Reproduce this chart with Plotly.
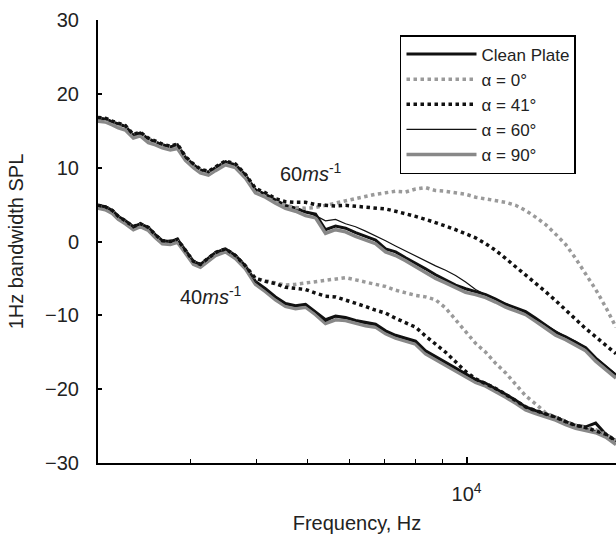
import numpy as np
import plotly.graph_objects as go

freq = [2000, 2065, 2129, 2186, 2254, 2334, 2406, 2492, 2570, 2649, 2743, 2829, 2930, 3034, 3128,
        3239, 3340, 3489, 3645, 3807, 3977, 4155, 4341, 4535, 4738, 4950, 5171, 5401, 5643, 5895,
        6158, 6432, 6720, 7020, 7333, 7661, 8002, 8359, 8733, 9124, 9531, 9956, 10400, 10870, 11350,
        11860, 12390, 12940, 13520, 14120, 14750, 15410, 16100, 16820, 17570, 18360, 19200]

# 60 m/s
u_clean = [16.7, 16.6, 16.2, 15.9, 15.6, 14.4, 14.7, 13.9, 13.5, 13.1, 12.8, 13.1, 11.4, 10.4, 9.7,
           9.4, 10.0, 10.8, 10.4, 9.0, 7.0, 6.4, 5.6, 4.9, 4.5, 4.0, 3.7, 1.6, 2.1, 1.8,
           1.2, 0.7, 0.2, -1.0, -1.4, -2.2, -2.9, -3.7, -4.5, -5.2, -5.9, -6.4, -6.8, -7.2, -7.8,
           -8.5, -9.0, -9.5, -10.4, -11.4, -12.3, -12.9, -13.6, -14.4, -15.8, -16.9, -18.1]
u_a0 = [16.7, 16.5, 16.2, 15.8, 15.6, 14.4, 14.6, 13.9, 13.5, 13.0, 12.8, 13.1, 11.4, 10.3, 9.7,
        9.3, 10.0, 10.8, 10.3, 8.9, 7.0, 6.4, 5.6, 4.9,
        4.6, 4.5, 4.6, 4.9, 5.2, 5.6, 5.9, 6.2, 6.4, 6.6, 6.8, 6.7, 7.1, 7.3, 6.9, 6.8, 6.6, 6.4,
        6.0, 5.8, 5.6, 5.3, 4.9, 4.2, 3.3, 2.3, 1.0, -0.4, -2.3, -4.4, -6.5, -8.9, -11.6]
u_a41 = [16.8, 16.7, 16.3, 16.0, 15.7, 14.5, 14.8, 14.0, 13.6, 13.2, 12.9, 13.2, 11.5, 10.5, 9.8,
         9.5, 10.1, 10.9, 10.5, 9.1, 7.2, 6.6, 5.8,
         5.4, 5.3, 5.3, 5.0, 4.9, 4.8, 4.9, 4.8, 4.7, 4.6, 4.4, 4.1, 3.8, 3.4, 3.0, 2.6, 2.1, 1.6,
         1.0, 0.5, -0.3, -1.2, -2.3, -3.4, -4.5, -5.6, -6.8, -8.0, -9.3, -10.5, -11.8, -12.9, -14.0, -15.2]
u_a60 = [16.8, 16.6, 16.3, 15.9, 15.5, 14.5, 14.6, 13.9, 13.4, 13.1, 12.9, 13.0, 11.3, 10.4, 9.8,
         9.3, 10.0, 10.9, 10.3, 9.0, 7.1, 6.3, 5.7, 4.8, 4.6, 4.1,
         3.5, 2.8, 3.0, 2.4, 2.0, 1.4, 0.8, 0.1, -0.6, -1.3, -2.0, -2.7, -3.3, -3.9, -4.6, -5.5,
         -6.5, -7.2, -7.8, -8.4, -9.0, -9.6, -10.5, -11.3, -12.2, -12.9, -13.5, -14.4, -15.7, -16.9, -18.0]
u_a90 = [16.3, 16.2, 15.8, 15.4, 15.1, 14.0, 14.3, 13.4, 13.1, 12.7, 12.4, 12.6, 11.0, 10.0, 9.3,
         9.0, 9.6, 10.4, 10.0, 8.6, 6.6, 6.0, 5.2, 4.5, 4.1, 3.5, 3.2, 1.1, 1.6, 1.3,
         0.7, 0.2, -0.3, -1.4, -1.9, -2.6, -3.4, -4.1, -5.0, -5.6, -6.3, -6.9, -7.2, -7.6, -8.2,
         -8.9, -9.4, -9.9, -10.8, -11.8, -12.7, -13.3, -14.0, -14.8, -16.2, -17.3, -18.5]

# 40 m/s
l_clean = [4.9, 4.7, 4.2, 3.4, 2.8, 2.0, 2.4, 1.9, 0.9, 0.1, 0.0, 0.3, -1.2, -2.7, -3.1,
           -2.2, -1.5, -1.0, -1.9, -3.3, -5.4, -6.4, -7.5, -8.4, -8.7, -8.5, -9.5, -10.6, -10.1, -10.3,
           -10.7, -11.0, -11.2, -12.1, -12.7, -13.1, -13.5, -14.8, -15.6, -16.3, -17.1, -18.0, -18.7, -19.2, -19.9,
           -20.7, -21.5, -22.4, -22.9, -23.3, -23.8, -24.4, -24.9, -25.1, -24.6, -26.1, -27.0]
l_a0 = [4.8, 4.6, 4.1, 3.3, 2.7, 1.9, 2.3, 1.8, 0.8, 0.0, -0.1, 0.2, -1.3, -2.8, -3.2,
        -2.3, -1.6, -1.1, -2.0, -3.4,
        -5.0, -5.3, -5.6, -5.9, -5.8, -5.6, -5.4, -5.3, -5.0, -4.9, -5.2, -5.5, -5.7, -6.1, -6.6,
        -7.0, -7.3, -7.5, -7.9, -9.0, -10.6, -12.2, -13.8, -15.0, -16.5, -17.8, -19.4, -20.9, -22.0, -23.2,
        -23.8, -24.4, -24.9, -25.2, -25.5, -26.1, -27.0]
l_a41 = [4.9, 4.7, 4.2, 3.4, 2.8, 2.0, 2.4, 1.9, 0.9, 0.1, 0.0, 0.3, -1.2, -2.7, -3.1,
         -2.2, -1.5, -1.0, -1.9, -3.3,
         -5.0, -5.4, -5.7, -6.2, -6.3, -6.5, -7.0, -7.4, -7.5, -7.9, -8.4, -8.8, -9.3, -9.7, -10.4,
         -11.0, -11.6, -12.8, -13.9, -15.0, -16.3, -17.6, -18.6,
         -19.2, -19.9, -20.7, -21.5, -22.4, -22.9, -23.3, -23.8, -24.4, -24.9, -25.2, -25.6, -26.1, -27.0]
l_a60 = [4.8, 4.6, 4.1, 3.3, 2.7, 1.9, 2.3, 1.8, 0.8, 0.0, -0.1, 0.2, -1.3, -2.8, -3.2,
         -2.3, -1.6, -1.1, -2.0, -3.4, -5.5, -6.5, -7.6, -8.5, -8.8, -8.6, -9.6, -10.8, -10.2, -10.4,
         -10.8, -11.1, -11.3, -12.2, -12.8, -13.2, -13.6, -14.9, -15.7, -16.4, -17.2, -18.1, -18.8, -19.3, -20.0,
         -20.8, -21.6, -22.5, -23.0, -23.4, -23.9, -24.5, -25.0, -25.3, -25.6, -26.2, -27.1]
l_a90 = [4.5, 4.3, 3.8, 3.0, 2.4, 1.6, 2.0, 1.5, 0.5, -0.3, -0.4, -0.1, -1.6, -3.1, -3.5,
         -2.6, -1.9, -1.4, -2.3, -3.7, -5.8, -6.8, -7.9, -8.8, -9.1, -8.9, -9.9, -11.1, -10.6, -10.7,
         -11.1, -11.4, -11.6, -12.5, -13.1, -13.5, -13.9, -15.2, -16.0, -16.7, -17.5, -18.4, -19.1, -19.6, -20.3,
         -21.1, -21.9, -22.8, -23.3, -23.7, -24.2, -24.8, -25.3, -25.6, -25.9, -26.5, -27.5]

series_names = ["Clean Plate", "α = 0°", "α = 41°", "α = 60°", "α = 90°"]
minor_ticks = [3000, 4000, 5000, 6000, 7000, 8000, 9000]

styles = {
    "Clean Plate": dict(color="#111111", width=3, dash="solid"),
    "α = 0°": dict(color="#9a9a9a", width=3.5, dash="dot"),
    "α = 41°": dict(color="#111111", width=3.5, dash="dot"),
    "α = 60°": dict(color="#111111", width=1.2, dash="solid"),
    "α = 90°": dict(color="#888888", width=3.5, dash="solid"),
}
upper = {"Clean Plate": u_clean, "α = 0°": u_a0, "α = 41°": u_a41, "α = 60°": u_a60, "α = 90°": u_a90}
lower = {"Clean Plate": l_clean, "α = 0°": l_a0, "α = 41°": l_a41, "α = 60°": l_a60, "α = 90°": l_a90}
draw_order = ["Clean Plate", "α = 90°", "α = 60°", "α = 0°", "α = 41°"]

fig = go.Figure()
for group, data in (("u", upper), ("l", lower)):
    for name in draw_order:
        fig.add_trace(go.Scatter(
            x=freq, y=data[name], mode="lines", name=name,
            line=styles[name], legendgroup=name,
            showlegend=(group == "u"),
            legendrank=series_names.index(name) + 1,
        ))

font_fam = "Arial, Liberation Sans, sans-serif"
fig.add_annotation(x=np.log10(4380), y=9.3, xref="x", yref="y",
                   text="60<i>ms</i><sup>-1</sup>", showarrow=False,
                   xanchor="left", yanchor="middle", font=dict(size=20, color="#222"))
fig.add_annotation(x=np.log10(2830), y=-7.3, xref="x", yref="y",
                   text="40<i>ms</i><sup>-1</sup>", showarrow=False,
                   xanchor="left", yanchor="middle", font=dict(size=20, color="#222"))

fig.update_layout(
    width=616, height=536,
    margin=dict(l=98, r=0, t=20, b=73),
    plot_bgcolor="white", paper_bgcolor="white",
    font=dict(family=font_fam, size=20, color="#222"),
    legend=dict(x=0.583, y=0.966, xanchor="left", yanchor="top",
                bordercolor="black", borderwidth=1.5, bgcolor="white",
                font=dict(size=17), itemwidth=70, tracegroupgap=0),
    xaxis=dict(type="log", range=[np.log10(2000), np.log10(19200)],
               tickmode="array", tickvals=[10000], ticktext=["10<sup>4</sup>"],
               ticks="inside", ticklen=6, tickcolor="black", tickwidth=1.5,
               showline=True, linecolor="black", linewidth=2, showgrid=False,
               zeroline=False, ticklabelstandoff=12, automargin=False,
               tickfont=dict(size=20),
               minor=dict(tickvals=minor_ticks, ticks="inside", ticklen=4,
                          tickcolor="black", tickwidth=1.2, showgrid=False),
               title=dict(text="Frequency, Hz", font=dict(size=20), standoff=12)),
    yaxis=dict(range=[-30, 30], tickvals=[-30, -20, -10, 0, 10, 20, 30],
               ticks="inside", ticklen=4, tickcolor="black", tickwidth=1.5,
               showline=True, linecolor="black", linewidth=2, showgrid=False,
               zeroline=False, ticklabelstandoff=13, automargin=False,
               tickfont=dict(size=20),
               title=dict(text="1Hz bandwidth SPL", font=dict(size=20), standoff=16)),
)

fig.write_html("out.html")
